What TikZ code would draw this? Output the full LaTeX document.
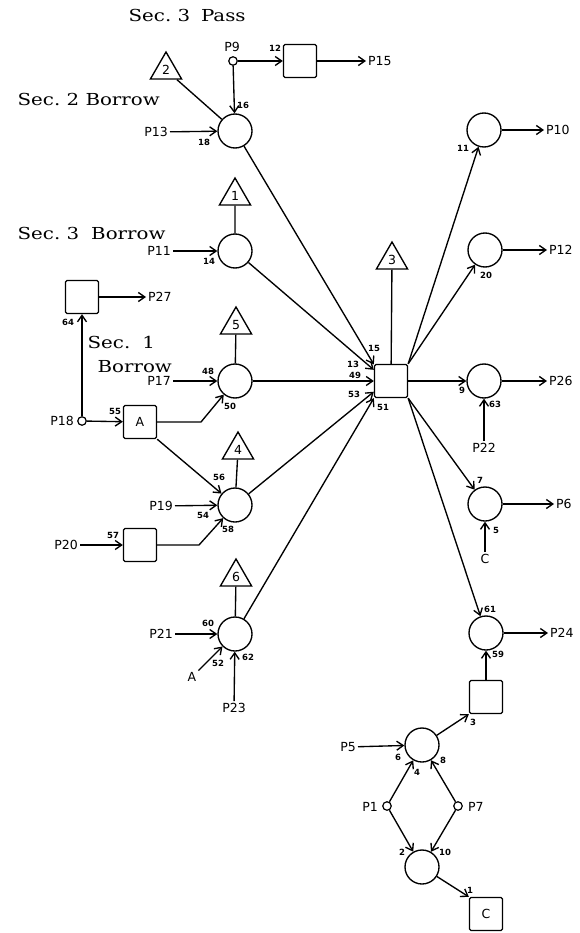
\documentclass[tikz,border=0pt]{standalone}
\usepackage{fontspec}
\newfontfamily\secfont{DejaVu Serif}
\newfontfamily\lblfont{DejaVu Sans}
\usetikzlibrary{arrows.meta,shapes.geometric}
\begin{document}
\begin{tikzpicture}[x=1pt,y=-1pt,line width=1.35pt,
  lbl/.style={font=\lblfont\fontsize{12.5}{13}\selectfont,inner sep=1.5pt},
  num/.style={font=\lblfont\bfseries\fontsize{8.5}{9}\selectfont,inner sep=0pt},
  sec/.style={font=\secfont\fontsize{16.5}{18}\selectfont,inner sep=0pt,anchor=base west},
  place/.style={circle,draw,minimum size=34pt,inner sep=0pt},
  tok/.style={circle,draw,minimum size=8.5pt,inner sep=0pt,line width=1.2pt},
  trans/.style={draw,minimum size=33pt,rounded corners=1.5pt,inner sep=0pt,font=\lblfont\fontsize{12.5}{13}\selectfont},
  tri/.style={regular polygon,regular polygon sides=3,draw,minimum size=36pt,inner sep=0pt,font=\lblfont\fontsize{12.5}{13}\selectfont},
  arr/.style={-{Straight Barb[length=6.5pt,width=9pt]}}]
\useasboundingbox (0,0) rectangle (580,933);

% section titles
\node[sec] (secpass) at (128,22) {\scalebox{1.2}[1]{Sec.\ 3\hspace{9pt}Pass}};
\node[sec] (sec2b) at (17,106) {\scalebox{1.2}[1]{Sec.\ 2 Borrow}};
\node[sec] (sec3b) at (17,239) {\scalebox{1.2}[1]{Sec.\ 3\hspace{10pt}Borrow}};
\node[sec] (sec1) at (87,348) {\scalebox{1.2}[1]{Sec.\hspace{10pt}1}};
\node[sec] (sec1b) at (97,372) {\scalebox{1.2}[1]{Borrow}};

% triangles
\node[tri] (t2) at (166,70) {2};
\node[tri] (t1) at (235,196) {1};
\node[tri] (t5) at (236,325) {5};
\node[tri] (t4) at (238,450) {4};
\node[tri] (t6) at (236,577) {6};
\node[tri] (t3) at (392,260) {3};

% places
\node[place] (c13) at (235,131) {};
\node[place] (c11) at (235,251) {};
\node[place] (c17) at (235,381) {};
\node[place] (c19) at (235,505) {};
\node[place] (c21) at (235,634) {};
\node[place] (c10) at (484,130) {};
\node[place] (c12) at (485,250) {};
\node[place] (c26) at (484,381) {};
\node[place] (c6) at (485,504) {};
\node[place] (c24) at (486,633) {};
\node[place] (c5) at (422,745) {};
\node[place] (cb) at (422,867) {};

% transitions
\node[trans] (s15) at (300,61) {};
\node[trans] (s27) at (82,297) {};
\node[trans] (sA) at (140,422) {A};
\node[trans] (s20) at (140,545) {};
\node[trans] (big) at (391,381) {};
\node[trans] (s3) at (486,697) {};
\node[trans] (sC) at (486,914) {C};

% small circles
\node[tok] (p9) at (233,61) {};
\node[tok] (p18) at (82,421) {};
\node[tok] (p1) at (387,806) {};
\node[tok] (p7) at (458,806) {};

% labels
\node[lbl] (lP9) at (232,47) {P9};
\node[lbl,anchor=west] (lP15) at (366,61) {P15};
\node[lbl,anchor=east] (lP13) at (170,132) {P13};
\node[lbl,anchor=east] (lP11) at (173,251) {P11};
\node[lbl,anchor=west] (lP27) at (146,297) {P27};
\node[lbl,anchor=east] (lP17) at (173,381) {P17};
\node[lbl,anchor=east] (lP18) at (76,421) {P18};
\node[lbl,anchor=east] (lP19) at (175,506) {P19};
\node[lbl,anchor=east] (lP20) at (80,545) {P20};
\node[lbl,anchor=east] (lP21) at (175,634) {P21};
\node[lbl] (lA) at (192,677) {A};
\node[lbl] (lP23) at (234,708) {P23};
\node[lbl,anchor=west] (lP10) at (544,130) {P10};
\node[lbl,anchor=west] (lP12) at (547,250) {P12};
\node[lbl,anchor=west] (lP26) at (547,381) {P26};
\node[lbl] (lP22) at (484,448) {P22};
\node[lbl,anchor=west] (lP6) at (554,504) {P6};
\node[lbl] (lC) at (485,559) {C};
\node[lbl,anchor=west] (lP24) at (548,633) {P24};
\node[lbl,anchor=east] (lP5) at (358,747) {P5};
\node[lbl,anchor=east] (lP1) at (380,807) {P1};
\node[lbl,anchor=west] (lP7) at (466,807) {P7};

% bend points
\coordinate (bendA) at (201,422);
\coordinate (bend20) at (199,545);

% connectors
\draw[arr] (p9) -- (s15);
\draw[arr] (s15) -- (lP15);
\draw[arr] (p9) -- (c13);
\draw (t2) -- (c13);
\draw[arr] (lP13) -- (c13);
\draw[arr] (c13) -- (big.136);
\draw (t1) -- (c11);
\draw[arr] (lP11) -- (c11);
\draw[arr] (c11) -- (big.147);
\draw[arr] (s27) -- (lP27);
\draw[arr] (p18) -- (s27);
\draw (t5) -- (c17);
\draw[arr] (lP17) -- (c17);
\draw[arr] (c17) -- (big);
\draw[arr] (p18) -- (sA);
\draw[arr] (sA) -- (bendA) -- (c17);
\draw[arr] (sA.south east) -- (c19);
\draw (t4) -- (c19);
\draw[arr] (lP19) -- (c19);
\draw[arr] (c19) -- (big.212);
\draw[arr] (lP20) -- (s20);
\draw[arr] (s20) -- (bend20) -- (c19);
\draw (t6) -- (c21);
\draw[arr] (lP21) -- (c21);
\draw[arr] (lA) -- (c21);
\draw[arr] (lP23) -- (c21);
\draw[arr] (c21) -- (big.south west);
\draw (t3) -- (big);
\draw[arr] (big.north east) -- (c10);
\draw[arr] (big.north east) -- (c12);
\draw[arr] (big) -- (c26);
\draw[arr] (c10) -- (lP10);
\draw[arr] (c12) -- (lP12);
\draw[arr] (c26) -- (lP26);
\draw[arr] (lP22) -- (c26);
\draw[arr] (big.south east) -- (c6);
\draw[arr] (big.south east) -- (c24);
\draw[arr] (c6) -- (lP6);
\draw[arr] (lC) -- (c6);
\draw[arr] (c24) -- (lP24);
\draw[arr] (s3) -- (c24);
\draw[arr] (c5) -- (s3.south west);
\draw[arr] (lP5) -- (c5);
\draw[arr] (p1) -- (c5);
\draw[arr] (p7) -- (c5);
\draw[arr] (p1) -- (cb);
\draw[arr] (p7) -- (cb);
\draw[arr] (cb) -- (sC.north west);

% arc numbers
\node[num] (n12) at (275,48) {12};
\node[num] (n16) at (243,105) {16};
\node[num] (n18) at (204,142) {18};
\node[num] (n14) at (209,261) {14};
\node[num] (n64) at (68,322) {64};
\node[num] (n48) at (208,371) {48};
\node[num] (n50) at (230,406) {50};
\node[num] (n55) at (115,411) {55};
\node[num] (n56) at (219,477) {56};
\node[num] (n54) at (203,515) {54};
\node[num] (n58) at (228,529) {58};
\node[num] (n57) at (113,535) {57};
\node[num] (n60) at (208,623) {60};
\node[num] (n52) at (218,663) {52};
\node[num] (n62) at (248,657) {62};
\node[num] (n15) at (374,348) {15};
\node[num] (n13) at (353,364) {13};
\node[num] (n49) at (355,375) {49};
\node[num] (n53) at (354,394) {53};
\node[num] (n51) at (383,407) {51};
\node[num] (n11) at (463,148) {11};
\node[num] (n20) at (486,275) {20};
\node[num] (n9) at (462,390) {9};
\node[num] (n63) at (495,404) {63};
\node[num] (n7) at (480,480) {7};
\node[num] (n5) at (496,530) {5};
\node[num] (n61) at (490,609) {61};
\node[num] (n59) at (498,654) {59};
\node[num] (n3) at (473,722) {3};
\node[num] (n6) at (398,757) {6};
\node[num] (n4) at (417,772) {4};
\node[num] (n8) at (443,760) {8};
\node[num] (n2) at (402,852) {2};
\node[num] (n10) at (445,852) {10};
\node[num] (n1) at (470,890) {1};
\end{tikzpicture}
\end{document}
